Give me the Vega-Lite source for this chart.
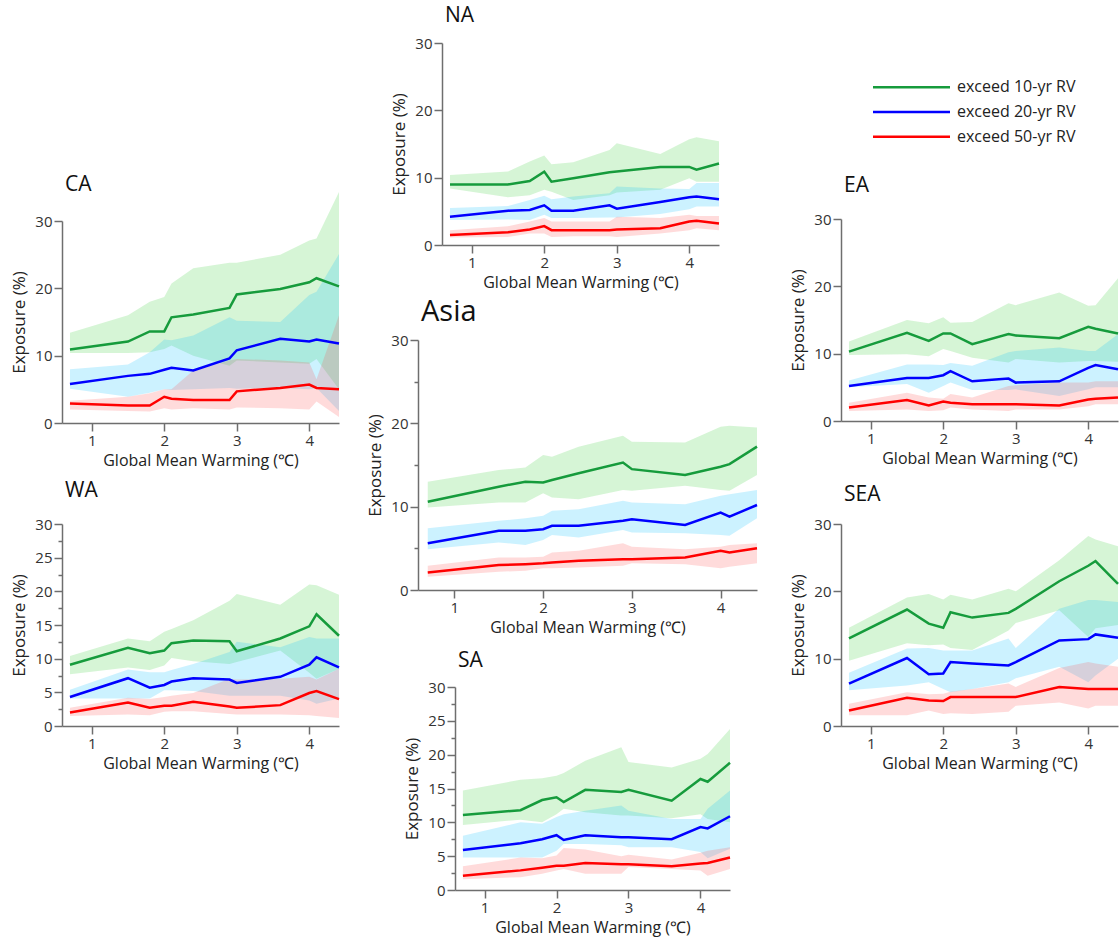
{
"$schema": "https://vega.github.io/schema/vega-lite/v6.json",
"padding": {"left": 10, "top": 5, "right": 0, "bottom": 6},
"background": "white",
"config": {
 "font": "Open Sans",
 "view": {"stroke": null},
 "axis": {"grid": false, "domainColor": "#6e6e6e", "domainWidth": 1.5, "tickColor": "#6e6e6e", "tickWidth": 1.5, "labelColor": "#333333", "labelFontSize": 15, "titleFontSize": 16, "titleFontWeight": "normal", "titleColor": "#222222", "labelFont": "Open Sans", "titleFont": "Open Sans", "labelOverlap": false},
 "axisY": {"titleFontSize": 17, "titlePadding": 6},
 "title": {"anchor": "start", "frame": "group", "fontSize": 21, "fontWeight": "normal", "color": "#111111", "font": "Open Sans", "baseline": "alphabetic", "dx": 3}
},
"resolve": {"scale": {"x": "independent", "y": "independent"}, "axis": {"x": "independent", "y": "independent"}},
"datasets": {
 "leg": [{"s":"10","t":"exceed 10-yr RV"},{"s":"20","t":"exceed 20-yr RV"},{"s":"50","t":"exceed 50-yr RV"}],
 "d": [
{"r":"CA","s":"10","x":0.7,"m":10.9,"lo":10.4,"hi":13.4},
{"r":"CA","s":"10","x":1.5,"m":12.1,"lo":10.4,"hi":16.0},
{"r":"CA","s":"10","x":1.8,"m":13.6,"lo":10.5,"hi":18.0},
{"r":"CA","s":"10","x":2.0,"m":13.6,"lo":11.0,"hi":18.7},
{"r":"CA","s":"10","x":2.1,"m":15.7,"lo":11.5,"hi":20.7},
{"r":"CA","s":"10","x":2.4,"m":16.1,"lo":10.0,"hi":23.0},
{"r":"CA","s":"10","x":2.9,"m":17.1,"lo":8.5,"hi":23.8},
{"r":"CA","s":"10","x":3.0,"m":19.1,"lo":9.3,"hi":23.8},
{"r":"CA","s":"10","x":3.6,"m":19.9,"lo":9.0,"hi":25.0},
{"r":"CA","s":"10","x":4.0,"m":20.9,"lo":8.8,"hi":27.1},
{"r":"CA","s":"10","x":4.1,"m":21.5,"lo":9.5,"hi":27.4},
{"r":"CA","s":"10","x":4.41,"m":20.3,"lo":5.0,"hi":34.3},
{"r":"CA","s":"20","x":0.7,"m":5.8,"lo":5.1,"hi":8.0},
{"r":"CA","s":"20","x":1.5,"m":7.0,"lo":3.9,"hi":8.7},
{"r":"CA","s":"20","x":1.8,"m":7.3,"lo":4.5,"hi":10.5},
{"r":"CA","s":"20","x":2.0,"m":7.9,"lo":5.0,"hi":12.4},
{"r":"CA","s":"20","x":2.1,"m":8.2,"lo":4.9,"hi":12.3},
{"r":"CA","s":"20","x":2.4,"m":7.8,"lo":5.0,"hi":13.0},
{"r":"CA","s":"20","x":2.9,"m":9.6,"lo":5.2,"hi":15.7},
{"r":"CA","s":"20","x":3.0,"m":10.8,"lo":5.1,"hi":15.2},
{"r":"CA","s":"20","x":3.6,"m":12.5,"lo":5.2,"hi":15.0},
{"r":"CA","s":"20","x":4.0,"m":12.1,"lo":5.0,"hi":19.0},
{"r":"CA","s":"20","x":4.1,"m":12.4,"lo":5.2,"hi":19.5},
{"r":"CA","s":"20","x":4.41,"m":11.8,"lo":1.8,"hi":25.1},
{"r":"CA","s":"50","x":0.7,"m":2.9,"lo":2.0,"hi":3.3},
{"r":"CA","s":"50","x":1.5,"m":2.6,"lo":1.8,"hi":3.9},
{"r":"CA","s":"50","x":1.8,"m":2.6,"lo":1.7,"hi":4.4},
{"r":"CA","s":"50","x":2.0,"m":3.9,"lo":2.2,"hi":5.0},
{"r":"CA","s":"50","x":2.1,"m":3.6,"lo":2.0,"hi":5.0},
{"r":"CA","s":"50","x":2.4,"m":3.4,"lo":2.2,"hi":7.8},
{"r":"CA","s":"50","x":2.9,"m":3.4,"lo":2.0,"hi":9.3},
{"r":"CA","s":"50","x":3.0,"m":4.7,"lo":2.3,"hi":9.5},
{"r":"CA","s":"50","x":3.6,"m":5.2,"lo":2.2,"hi":9.3},
{"r":"CA","s":"50","x":4.0,"m":5.7,"lo":2.0,"hi":9.0},
{"r":"CA","s":"50","x":4.1,"m":5.2,"lo":3.2,"hi":6.5},
{"r":"CA","s":"50","x":4.41,"m":5.0,"lo":0.9,"hi":16.0},
{"r":"NA","s":"10","x":0.7,"m":9.0,"lo":8.4,"hi":10.4},
{"r":"NA","s":"10","x":1.5,"m":9.0,"lo":7.1,"hi":10.9},
{"r":"NA","s":"10","x":1.8,"m":9.5,"lo":7.4,"hi":12.4},
{"r":"NA","s":"10","x":2.0,"m":10.9,"lo":8.2,"hi":13.3},
{"r":"NA","s":"10","x":2.1,"m":9.4,"lo":7.9,"hi":12.0},
{"r":"NA","s":"10","x":2.4,"m":9.9,"lo":6.7,"hi":12.3},
{"r":"NA","s":"10","x":2.9,"m":10.8,"lo":7.4,"hi":14.1},
{"r":"NA","s":"10","x":3.0,"m":10.9,"lo":7.8,"hi":15.1},
{"r":"NA","s":"10","x":3.6,"m":11.6,"lo":8.2,"hi":13.5},
{"r":"NA","s":"10","x":4.0,"m":11.6,"lo":9.9,"hi":15.7},
{"r":"NA","s":"10","x":4.1,"m":11.2,"lo":9.4,"hi":16.0},
{"r":"NA","s":"10","x":4.41,"m":12.1,"lo":9.4,"hi":15.4},
{"r":"NA","s":"20","x":0.7,"m":4.2,"lo":3.7,"hi":5.5},
{"r":"NA","s":"20","x":1.5,"m":5.1,"lo":3.8,"hi":5.8},
{"r":"NA","s":"20","x":1.8,"m":5.2,"lo":3.7,"hi":6.7},
{"r":"NA","s":"20","x":2.0,"m":5.9,"lo":4.5,"hi":7.3},
{"r":"NA","s":"20","x":2.1,"m":5.1,"lo":4.0,"hi":6.8},
{"r":"NA","s":"20","x":2.4,"m":5.1,"lo":4.0,"hi":7.2},
{"r":"NA","s":"20","x":2.9,"m":5.9,"lo":4.1,"hi":7.7},
{"r":"NA","s":"20","x":3.0,"m":5.4,"lo":4.1,"hi":8.7},
{"r":"NA","s":"20","x":3.6,"m":6.4,"lo":4.6,"hi":8.4},
{"r":"NA","s":"20","x":4.0,"m":7.1,"lo":5.3,"hi":8.3},
{"r":"NA","s":"20","x":4.1,"m":7.2,"lo":5.7,"hi":9.2},
{"r":"NA","s":"20","x":4.41,"m":6.8,"lo":5.7,"hi":9.2},
{"r":"NA","s":"50","x":0.7,"m":1.5,"lo":1.1,"hi":2.2},
{"r":"NA","s":"50","x":1.5,"m":1.9,"lo":1.2,"hi":2.8},
{"r":"NA","s":"50","x":1.8,"m":2.3,"lo":1.7,"hi":3.5},
{"r":"NA","s":"50","x":2.0,"m":2.8,"lo":1.7,"hi":4.0},
{"r":"NA","s":"50","x":2.1,"m":2.2,"lo":1.2,"hi":3.5},
{"r":"NA","s":"50","x":2.4,"m":2.2,"lo":1.3,"hi":3.5},
{"r":"NA","s":"50","x":2.9,"m":2.2,"lo":1.3,"hi":3.5},
{"r":"NA","s":"50","x":3.0,"m":2.3,"lo":1.2,"hi":4.2},
{"r":"NA","s":"50","x":3.6,"m":2.5,"lo":1.7,"hi":4.0},
{"r":"NA","s":"50","x":4.0,"m":3.5,"lo":2.2,"hi":4.5},
{"r":"NA","s":"50","x":4.1,"m":3.6,"lo":2.5,"hi":4.3},
{"r":"NA","s":"50","x":4.41,"m":3.2,"lo":2.2,"hi":4.3},
{"r":"EA","s":"10","x":0.7,"m":10.3,"lo":9.8,"hi":11.8},
{"r":"EA","s":"10","x":1.5,"m":13.1,"lo":9.9,"hi":15.0},
{"r":"EA","s":"10","x":1.8,"m":11.9,"lo":9.6,"hi":14.5},
{"r":"EA","s":"10","x":2.0,"m":13.0,"lo":10.7,"hi":15.4},
{"r":"EA","s":"10","x":2.1,"m":13.0,"lo":10.4,"hi":14.6},
{"r":"EA","s":"10","x":2.4,"m":11.4,"lo":9.4,"hi":14.7},
{"r":"EA","s":"10","x":2.9,"m":12.9,"lo":8.7,"hi":17.5},
{"r":"EA","s":"10","x":3.0,"m":12.7,"lo":9.2,"hi":17.2},
{"r":"EA","s":"10","x":3.6,"m":12.3,"lo":8.7,"hi":19.1},
{"r":"EA","s":"10","x":4.0,"m":14.0,"lo":8.9,"hi":17.1},
{"r":"EA","s":"10","x":4.1,"m":13.7,"lo":8.9,"hi":17.2},
{"r":"EA","s":"10","x":4.41,"m":13.0,"lo":8.8,"hi":21.2},
{"r":"EA","s":"20","x":0.7,"m":5.2,"lo":5.0,"hi":6.0},
{"r":"EA","s":"20","x":1.5,"m":6.4,"lo":5.5,"hi":8.4},
{"r":"EA","s":"20","x":1.8,"m":6.4,"lo":4.2,"hi":8.4},
{"r":"EA","s":"20","x":2.0,"m":6.8,"lo":5.2,"hi":8.3},
{"r":"EA","s":"20","x":2.1,"m":7.4,"lo":5.7,"hi":8.6},
{"r":"EA","s":"20","x":2.4,"m":5.9,"lo":4.6,"hi":8.2},
{"r":"EA","s":"20","x":2.9,"m":6.3,"lo":4.6,"hi":10.2},
{"r":"EA","s":"20","x":3.0,"m":5.7,"lo":4.7,"hi":10.4},
{"r":"EA","s":"20","x":3.6,"m":5.9,"lo":3.7,"hi":10.9},
{"r":"EA","s":"20","x":4.0,"m":7.9,"lo":4.7,"hi":10.4},
{"r":"EA","s":"20","x":4.1,"m":8.3,"lo":5.0,"hi":10.4},
{"r":"EA","s":"20","x":4.41,"m":7.7,"lo":5.0,"hi":12.9},
{"r":"EA","s":"50","x":0.7,"m":2.0,"lo":1.5,"hi":2.7},
{"r":"EA","s":"50","x":1.5,"m":3.1,"lo":1.7,"hi":4.2},
{"r":"EA","s":"50","x":1.8,"m":2.3,"lo":1.5,"hi":3.5},
{"r":"EA","s":"50","x":2.0,"m":2.9,"lo":1.6,"hi":3.3},
{"r":"EA","s":"50","x":2.1,"m":2.7,"lo":2.0,"hi":4.0},
{"r":"EA","s":"50","x":2.4,"m":2.5,"lo":1.7,"hi":3.5},
{"r":"EA","s":"50","x":2.9,"m":2.5,"lo":1.5,"hi":5.2},
{"r":"EA","s":"50","x":3.0,"m":2.5,"lo":1.7,"hi":5.3},
{"r":"EA","s":"50","x":3.6,"m":2.3,"lo":1.7,"hi":5.7},
{"r":"EA","s":"50","x":4.0,"m":3.2,"lo":2.2,"hi":5.7},
{"r":"EA","s":"50","x":4.1,"m":3.3,"lo":2.5,"hi":5.9},
{"r":"EA","s":"50","x":4.41,"m":3.5,"lo":2.5,"hi":5.9},
{"r":"Asia","s":"10","x":0.7,"m":10.6,"lo":9.9,"hi":13.0},
{"r":"Asia","s":"10","x":1.5,"m":12.4,"lo":10.5,"hi":14.4},
{"r":"Asia","s":"10","x":1.8,"m":13.0,"lo":10.5,"hi":14.7},
{"r":"Asia","s":"10","x":2.0,"m":12.9,"lo":11.6,"hi":16.2},
{"r":"Asia","s":"10","x":2.1,"m":13.2,"lo":11.1,"hi":16.0},
{"r":"Asia","s":"10","x":2.4,"m":14.0,"lo":10.9,"hi":17.2},
{"r":"Asia","s":"10","x":2.9,"m":15.3,"lo":12.0,"hi":18.5},
{"r":"Asia","s":"10","x":3.0,"m":14.5,"lo":11.9,"hi":17.8},
{"r":"Asia","s":"10","x":3.6,"m":13.8,"lo":12.5,"hi":17.7},
{"r":"Asia","s":"10","x":4.0,"m":14.8,"lo":12.0,"hi":19.6},
{"r":"Asia","s":"10","x":4.1,"m":15.1,"lo":11.9,"hi":19.7},
{"r":"Asia","s":"10","x":4.41,"m":17.2,"lo":13.8,"hi":19.5},
{"r":"Asia","s":"20","x":0.7,"m":5.6,"lo":4.9,"hi":7.4},
{"r":"Asia","s":"20","x":1.5,"m":7.1,"lo":5.7,"hi":8.3},
{"r":"Asia","s":"20","x":1.8,"m":7.1,"lo":5.4,"hi":8.6},
{"r":"Asia","s":"20","x":2.0,"m":7.3,"lo":6.0,"hi":8.9},
{"r":"Asia","s":"20","x":2.1,"m":7.7,"lo":6.6,"hi":9.5},
{"r":"Asia","s":"20","x":2.4,"m":7.7,"lo":6.3,"hi":9.7},
{"r":"Asia","s":"20","x":2.9,"m":8.3,"lo":7.2,"hi":10.7},
{"r":"Asia","s":"20","x":3.0,"m":8.5,"lo":6.9,"hi":10.5},
{"r":"Asia","s":"20","x":3.6,"m":7.8,"lo":6.8,"hi":10.3},
{"r":"Asia","s":"20","x":4.0,"m":9.3,"lo":6.6,"hi":11.3},
{"r":"Asia","s":"20","x":4.1,"m":8.8,"lo":6.5,"hi":11.5},
{"r":"Asia","s":"20","x":4.41,"m":10.2,"lo":8.6,"hi":12.0},
{"r":"Asia","s":"50","x":0.7,"m":2.1,"lo":1.6,"hi":2.9},
{"r":"Asia","s":"50","x":1.5,"m":3.0,"lo":2.2,"hi":3.9},
{"r":"Asia","s":"50","x":1.8,"m":3.1,"lo":2.3,"hi":3.9},
{"r":"Asia","s":"50","x":2.0,"m":3.2,"lo":2.6,"hi":4.0},
{"r":"Asia","s":"50","x":2.1,"m":3.3,"lo":2.6,"hi":4.5},
{"r":"Asia","s":"50","x":2.4,"m":3.5,"lo":2.7,"hi":4.7},
{"r":"Asia","s":"50","x":2.9,"m":3.7,"lo":2.9,"hi":5.6},
{"r":"Asia","s":"50","x":3.0,"m":3.7,"lo":3.2,"hi":5.2},
{"r":"Asia","s":"50","x":3.6,"m":3.9,"lo":3.1,"hi":4.9},
{"r":"Asia","s":"50","x":4.0,"m":4.7,"lo":2.6,"hi":5.2},
{"r":"Asia","s":"50","x":4.1,"m":4.5,"lo":2.8,"hi":5.4},
{"r":"Asia","s":"50","x":4.41,"m":5.0,"lo":3.2,"hi":5.6},
{"r":"WA","s":"10","x":0.7,"m":9.1,"lo":7.7,"hi":10.4},
{"r":"WA","s":"10","x":1.5,"m":11.6,"lo":8.7,"hi":13.0},
{"r":"WA","s":"10","x":1.8,"m":10.8,"lo":8.3,"hi":12.6},
{"r":"WA","s":"10","x":2.0,"m":11.2,"lo":9.0,"hi":14.0},
{"r":"WA","s":"10","x":2.1,"m":12.3,"lo":10.1,"hi":14.4},
{"r":"WA","s":"10","x":2.4,"m":12.7,"lo":9.6,"hi":15.7},
{"r":"WA","s":"10","x":2.9,"m":12.6,"lo":9.2,"hi":18.6},
{"r":"WA","s":"10","x":3.0,"m":11.1,"lo":9.5,"hi":19.6},
{"r":"WA","s":"10","x":3.6,"m":13.0,"lo":11.2,"hi":18.0},
{"r":"WA","s":"10","x":4.0,"m":14.8,"lo":7.9,"hi":21.0},
{"r":"WA","s":"10","x":4.1,"m":16.6,"lo":7.0,"hi":20.9},
{"r":"WA","s":"10","x":4.41,"m":13.4,"lo":8.5,"hi":19.5},
{"r":"WA","s":"20","x":0.7,"m":4.3,"lo":4.1,"hi":5.4},
{"r":"WA","s":"20","x":1.5,"m":7.1,"lo":4.1,"hi":8.4},
{"r":"WA","s":"20","x":1.8,"m":5.7,"lo":4.1,"hi":8.0},
{"r":"WA","s":"20","x":2.0,"m":6.1,"lo":5.3,"hi":8.0},
{"r":"WA","s":"20","x":2.1,"m":6.6,"lo":5.3,"hi":8.3},
{"r":"WA","s":"20","x":2.4,"m":7.1,"lo":5.2,"hi":9.2},
{"r":"WA","s":"20","x":2.9,"m":6.9,"lo":4.5,"hi":11.0},
{"r":"WA","s":"20","x":3.0,"m":6.4,"lo":4.5,"hi":12.5},
{"r":"WA","s":"20","x":3.6,"m":7.3,"lo":4.5,"hi":11.7},
{"r":"WA","s":"20","x":4.0,"m":9.1,"lo":3.8,"hi":13.2},
{"r":"WA","s":"20","x":4.1,"m":10.2,"lo":3.3,"hi":13.0},
{"r":"WA","s":"20","x":4.41,"m":8.7,"lo":4.1,"hi":13.0},
{"r":"WA","s":"50","x":0.7,"m":2.0,"lo":1.5,"hi":2.7},
{"r":"WA","s":"50","x":1.5,"m":3.5,"lo":1.7,"hi":4.2},
{"r":"WA","s":"50","x":1.8,"m":2.7,"lo":1.6,"hi":4.0},
{"r":"WA","s":"50","x":2.0,"m":3.0,"lo":2.1,"hi":4.3},
{"r":"WA","s":"50","x":2.1,"m":3.0,"lo":2.2,"hi":4.5},
{"r":"WA","s":"50","x":2.4,"m":3.6,"lo":2.2,"hi":4.9},
{"r":"WA","s":"50","x":2.9,"m":2.9,"lo":1.8,"hi":7.0},
{"r":"WA","s":"50","x":3.0,"m":2.7,"lo":1.7,"hi":6.9},
{"r":"WA","s":"50","x":3.6,"m":3.1,"lo":1.7,"hi":7.0},
{"r":"WA","s":"50","x":4.0,"m":4.9,"lo":1.6,"hi":7.3},
{"r":"WA","s":"50","x":4.1,"m":5.2,"lo":1.5,"hi":6.9},
{"r":"WA","s":"50","x":4.41,"m":4.0,"lo":1.2,"hi":8.5},
{"r":"SEA","s":"10","x":0.7,"m":13.0,"lo":9.7,"hi":14.6},
{"r":"SEA","s":"10","x":1.5,"m":17.3,"lo":12.3,"hi":19.1},
{"r":"SEA","s":"10","x":1.8,"m":15.2,"lo":12.0,"hi":19.6},
{"r":"SEA","s":"10","x":2.0,"m":14.6,"lo":12.1,"hi":18.8},
{"r":"SEA","s":"10","x":2.1,"m":16.9,"lo":11.6,"hi":19.5},
{"r":"SEA","s":"10","x":2.4,"m":16.1,"lo":11.3,"hi":18.8},
{"r":"SEA","s":"10","x":2.9,"m":16.8,"lo":14.2,"hi":20.4},
{"r":"SEA","s":"10","x":3.0,"m":17.4,"lo":15.3,"hi":20.0},
{"r":"SEA","s":"10","x":3.6,"m":21.5,"lo":17.2,"hi":24.6},
{"r":"SEA","s":"10","x":4.0,"m":23.8,"lo":13.2,"hi":28.2},
{"r":"SEA","s":"10","x":4.1,"m":24.5,"lo":14.5,"hi":27.7},
{"r":"SEA","s":"10","x":4.41,"m":21.1,"lo":15.0,"hi":26.7},
{"r":"SEA","s":"20","x":0.7,"m":6.3,"lo":5.3,"hi":7.9},
{"r":"SEA","s":"20","x":1.5,"m":10.1,"lo":6.0,"hi":11.5},
{"r":"SEA","s":"20","x":1.8,"m":7.7,"lo":6.5,"hi":11.6},
{"r":"SEA","s":"20","x":2.0,"m":7.8,"lo":5.5,"hi":11.2},
{"r":"SEA","s":"20","x":2.1,"m":9.5,"lo":5.0,"hi":11.2},
{"r":"SEA","s":"20","x":2.4,"m":9.3,"lo":5.5,"hi":11.2},
{"r":"SEA","s":"20","x":2.9,"m":9.0,"lo":6.5,"hi":13.0},
{"r":"SEA","s":"20","x":3.0,"m":9.5,"lo":7.1,"hi":11.6},
{"r":"SEA","s":"20","x":3.6,"m":12.7,"lo":8.8,"hi":17.4},
{"r":"SEA","s":"20","x":4.0,"m":12.9,"lo":6.5,"hi":18.7},
{"r":"SEA","s":"20","x":4.1,"m":13.6,"lo":7.5,"hi":18.7},
{"r":"SEA","s":"20","x":4.41,"m":13.1,"lo":10.0,"hi":18.4},
{"r":"SEA","s":"50","x":0.7,"m":2.3,"lo":1.6,"hi":3.3},
{"r":"SEA","s":"50","x":1.5,"m":4.2,"lo":1.6,"hi":5.0},
{"r":"SEA","s":"50","x":1.8,"m":3.8,"lo":2.3,"hi":4.7},
{"r":"SEA","s":"50","x":2.0,"m":3.7,"lo":1.8,"hi":4.8},
{"r":"SEA","s":"50","x":2.1,"m":4.3,"lo":1.9,"hi":5.1},
{"r":"SEA","s":"50","x":2.4,"m":4.3,"lo":1.8,"hi":5.5},
{"r":"SEA","s":"50","x":2.9,"m":4.3,"lo":2.1,"hi":6.3},
{"r":"SEA","s":"50","x":3.0,"m":4.3,"lo":3.0,"hi":5.8},
{"r":"SEA","s":"50","x":3.6,"m":5.8,"lo":3.5,"hi":8.6},
{"r":"SEA","s":"50","x":4.0,"m":5.5,"lo":2.6,"hi":9.5},
{"r":"SEA","s":"50","x":4.1,"m":5.5,"lo":3.0,"hi":9.3},
{"r":"SEA","s":"50","x":4.41,"m":5.5,"lo":3.0,"hi":8.8},
{"r":"SA","s":"10","x":0.7,"m":11.1,"lo":9.6,"hi":14.7},
{"r":"SA","s":"10","x":1.5,"m":11.8,"lo":10.4,"hi":16.3},
{"r":"SA","s":"10","x":1.8,"m":13.3,"lo":10.0,"hi":16.5},
{"r":"SA","s":"10","x":2.0,"m":13.7,"lo":11.2,"hi":16.9},
{"r":"SA","s":"10","x":2.1,"m":13.0,"lo":12.0,"hi":17.3},
{"r":"SA","s":"10","x":2.4,"m":14.8,"lo":11.5,"hi":19.1},
{"r":"SA","s":"10","x":2.9,"m":14.5,"lo":11.0,"hi":21.1},
{"r":"SA","s":"10","x":3.0,"m":14.8,"lo":11.0,"hi":18.9},
{"r":"SA","s":"10","x":3.6,"m":13.2,"lo":10.6,"hi":18.1},
{"r":"SA","s":"10","x":4.0,"m":16.4,"lo":11.2,"hi":19.4},
{"r":"SA","s":"10","x":4.1,"m":16.0,"lo":10.5,"hi":20.1},
{"r":"SA","s":"10","x":4.41,"m":18.8,"lo":10.0,"hi":23.8},
{"r":"SA","s":"20","x":0.7,"m":5.9,"lo":4.8,"hi":8.0},
{"r":"SA","s":"20","x":1.5,"m":6.9,"lo":4.8,"hi":10.0},
{"r":"SA","s":"20","x":1.8,"m":7.5,"lo":4.8,"hi":9.8},
{"r":"SA","s":"20","x":2.0,"m":8.1,"lo":5.8,"hi":10.8},
{"r":"SA","s":"20","x":2.1,"m":7.4,"lo":6.8,"hi":11.2},
{"r":"SA","s":"20","x":2.4,"m":8.1,"lo":6.8,"hi":11.7},
{"r":"SA","s":"20","x":2.9,"m":7.8,"lo":6.6,"hi":12.5},
{"r":"SA","s":"20","x":3.0,"m":7.8,"lo":6.3,"hi":11.7},
{"r":"SA","s":"20","x":3.6,"m":7.5,"lo":6.3,"hi":10.5},
{"r":"SA","s":"20","x":4.0,"m":9.3,"lo":5.6,"hi":10.5},
{"r":"SA","s":"20","x":4.1,"m":9.1,"lo":4.7,"hi":12.0},
{"r":"SA","s":"20","x":4.41,"m":10.9,"lo":6.1,"hi":14.7},
{"r":"SA","s":"50","x":0.7,"m":2.1,"lo":1.6,"hi":3.5},
{"r":"SA","s":"50","x":1.5,"m":2.9,"lo":1.9,"hi":4.8},
{"r":"SA","s":"50","x":1.8,"m":3.3,"lo":2.4,"hi":4.7},
{"r":"SA","s":"50","x":2.0,"m":3.6,"lo":2.9,"hi":5.1},
{"r":"SA","s":"50","x":2.1,"m":3.6,"lo":3.1,"hi":6.2},
{"r":"SA","s":"50","x":2.4,"m":4.0,"lo":2.4,"hi":6.0},
{"r":"SA","s":"50","x":2.9,"m":3.8,"lo":2.4,"hi":5.0},
{"r":"SA","s":"50","x":3.0,"m":3.8,"lo":3.4,"hi":5.2},
{"r":"SA","s":"50","x":3.6,"m":3.5,"lo":3.1,"hi":4.5},
{"r":"SA","s":"50","x":4.0,"m":3.9,"lo":2.9,"hi":5.5},
{"r":"SA","s":"50","x":4.1,"m":4.0,"lo":2.1,"hi":5.8},
{"r":"SA","s":"50","x":4.41,"m":4.8,"lo":3.1,"hi":6.3}
 ]
},
"hconcat": [
 {"vconcat": [
   {"width": 1, "height": 131, "data": {"values": [{}]}, "mark": {"type": "point", "opacity": 0, "size": 0}},
   {"data": {"name": "d"}, "transform": [{"filter": "datum.r === 'CA'"}], "width": 277, "height": 202,
    "title": {"text": "CA", "offset": -3, "fontSize": 21},
    "layer": [
     {"mark": {"type": "area", "fillOpacity": 0.2}, "encoding": {
       "x": {"field": "x", "type": "quantitative", "scale": {"domain": [0.59, 4.41], "nice": false, "zero": false}, "axis": {"title": "Global Mean Warming (℃)", "values": [1,1.5,2,2.5,3,3.5,4], "format": "d", "labelExpr": "datum.value % 1 === 0 ? datum.label : ''", "tickSize": {"condition": {"test": "datum.value % 1 === 0", "value": 8}, "value": 4}, "labelPadding": 2, "titlePadding": 4, "titleFontSize": 16, "labelFontSize": 15, "labelOverlap": false}},
       "y": {"field": "hi", "type": "quantitative", "scale": {"domain": [0, 30], "nice": false}, "axis": {"title": "Exposure (%)", "values": [0,5,10,15,20,25,30], "labelExpr": "datum.value % 10 === 0 ? datum.label : ''", "tickSize": {"condition": {"test": "datum.value % 10 === 0", "value": 8}, "value": 4}, "labelPadding": 2, "titlePadding": 6, "titleFontSize": 17, "labelFontSize": 15, "labelOverlap": false}},
       "y2": {"field": "lo"},
       "fill": {"field": "s", "type": "nominal", "scale": {"domain": ["10","20","50"], "range": ["#33cc33","#00bfff","#ff4d4d"]}, "legend": null}}},
     {"mark": {"type": "line", "strokeWidth": 2.5}, "encoding": {
       "x": {"field": "x", "type": "quantitative"},
       "y": {"field": "m", "type": "quantitative"},
       "color": {"field": "s", "type": "nominal", "scale": {"domain": ["10","20","50"], "range": ["#169b3c","#0000ff","#ff0000"]}, "legend": null}}}
    ]},
   {"width": 1, "height": 12, "data": {"values": [{}]}, "mark": {"type": "point", "opacity": 0, "size": 0}},
   {"data": {"name": "d"}, "transform": [{"filter": "datum.r === 'WA'"}], "width": 277, "height": 202,
    "title": {"text": "WA", "offset": 16, "fontSize": 21},
    "layer": [
     {"mark": {"type": "area", "fillOpacity": 0.2}, "encoding": {
       "x": {"field": "x", "type": "quantitative", "scale": {"domain": [0.59, 4.41], "nice": false, "zero": false}, "axis": {"title": "Global Mean Warming (℃)", "values": [1,1.5,2,2.5,3,3.5,4], "format": "d", "labelExpr": "datum.value % 1 === 0 ? datum.label : ''", "tickSize": {"condition": {"test": "datum.value % 1 === 0", "value": 8}, "value": 4}, "labelPadding": 2, "titlePadding": 4, "titleFontSize": 16, "labelFontSize": 15, "labelOverlap": false}},
       "y": {"field": "hi", "type": "quantitative", "scale": {"domain": [0, 30], "nice": false}, "axis": {"title": "Exposure (%)", "values": [0,2.5,5,7.5,10,12.5,15,17.5,20,22.5,25,27.5,30], "format": "d", "labelExpr": "datum.value % 5 === 0 ? datum.label : ''", "tickSize": {"condition": {"test": "datum.value % 5 === 0", "value": 8}, "value": 4}, "labelPadding": 2, "titlePadding": 6, "titleFontSize": 17, "labelFontSize": 15, "labelOverlap": false}},
       "y2": {"field": "lo"},
       "fill": {"field": "s", "type": "nominal", "scale": {"domain": ["10","20","50"], "range": ["#33cc33","#00bfff","#ff4d4d"]}, "legend": null}}},
     {"mark": {"type": "line", "strokeWidth": 2.5}, "encoding": {
       "x": {"field": "x", "type": "quantitative"},
       "y": {"field": "m", "type": "quantitative", "axis": {"title": "Exposure (%)", "values": [0,2.5,5,7.5,10,12.5,15,17.5,20,22.5,25,27.5,30], "format": "d", "labelExpr": "datum.value % 5 === 0 ? datum.label : ''", "tickSize": {"condition": {"test": "datum.value % 5 === 0", "value": 8}, "value": 4}, "labelPadding": 2, "titlePadding": 6, "titleFontSize": 17, "labelFontSize": 15, "labelOverlap": false}},
       "color": {"field": "s", "type": "nominal", "scale": {"domain": ["10","20","50"], "range": ["#169b3c","#0000ff","#ff0000"]}, "legend": null}}}
    ]}
  ], "spacing": 0, "resolve": {"scale": {"x": "independent", "y": "independent"}, "axis": {"x": "independent", "y": "independent"}}},
 {"width": 20, "height": 1, "data": {"values": [{}]}, "mark": {"type": "point", "opacity": 0, "size": 0}},
 {"vconcat": [
   {"hconcat": [
     {"width": 26, "height": 1, "data": {"values": [{}]}, "mark": {"type": "point", "opacity": 0, "size": 0}},
     {"data": {"name": "d"}, "transform": [{"filter": "datum.r === 'NA'"}], "width": 277, "height": 202,
      "title": {"text": "NA", "offset": 10, "fontSize": 21},
      "layer": [
       {"mark": {"type": "area", "fillOpacity": 0.2}, "encoding": {
         "x": {"field": "x", "type": "quantitative", "scale": {"domain": [0.59, 4.41], "nice": false, "zero": false}, "axis": {"title": "Global Mean Warming (℃)", "values": [1,1.5,2,2.5,3,3.5,4], "format": "d", "labelExpr": "datum.value % 1 === 0 ? datum.label : ''", "tickSize": {"condition": {"test": "datum.value % 1 === 0", "value": 8}, "value": 4}, "labelPadding": 2, "titlePadding": 4, "titleFontSize": 16, "labelFontSize": 15, "labelOverlap": false}},
         "y": {"field": "hi", "type": "quantitative", "scale": {"domain": [0, 30], "nice": false}, "axis": {"title": "Exposure (%)", "values": [0,5,10,15,20,25,30], "labelExpr": "datum.value % 10 === 0 ? datum.label : ''", "tickSize": {"condition": {"test": "datum.value % 10 === 0", "value": 8}, "value": 4}, "labelPadding": 2, "titlePadding": 6, "titleFontSize": 17, "labelFontSize": 15, "labelOverlap": false}},
         "y2": {"field": "lo"},
         "fill": {"field": "s", "type": "nominal", "scale": {"domain": ["10","20","50"], "range": ["#33cc33","#00bfff","#ff4d4d"]}, "legend": null}}},
       {"mark": {"type": "line", "strokeWidth": 2.5}, "encoding": {
         "x": {"field": "x", "type": "quantitative"},
         "y": {"field": "m", "type": "quantitative"},
         "color": {"field": "s", "type": "nominal", "scale": {"domain": ["10","20","50"], "range": ["#169b3c","#0000ff","#ff0000"]}, "legend": null}}}
      ]}
    ], "spacing": 0, "resolve": {"scale": {"x": "independent", "y": "independent"}, "axis": {"x": "independent", "y": "independent"}}},
   {"width": 1, "height": 8, "data": {"values": [{}]}, "mark": {"type": "point", "opacity": 0, "size": 0}},
   {"hconcat": [
     {"width": 2, "height": 1, "data": {"values": [{}]}, "mark": {"type": "point", "opacity": 0, "size": 0}},
     {"data": {"name": "d"}, "transform": [{"filter": "datum.r === 'Asia'"}], "width": 339, "height": 250,
      "title": {"text": "Asia", "offset": 6, "fontSize": 29},
      "layer": [
       {"mark": {"type": "area", "fillOpacity": 0.2}, "encoding": {
         "x": {"field": "x", "type": "quantitative", "scale": {"domain": [0.59, 4.41], "nice": false, "zero": false}, "axis": {"title": "Global Mean Warming (℃)", "values": [1,1.5,2,2.5,3,3.5,4], "format": "d", "labelExpr": "datum.value % 1 === 0 ? datum.label : ''", "tickSize": {"condition": {"test": "datum.value % 1 === 0", "value": 8}, "value": 4}, "labelPadding": 2, "titlePadding": 4, "titleFontSize": 16, "labelFontSize": 15, "labelOverlap": false}},
         "y": {"field": "hi", "type": "quantitative", "scale": {"domain": [0, 30], "nice": false}, "axis": {"title": "Exposure (%)", "values": [0,5,10,15,20,25,30], "labelExpr": "datum.value % 10 === 0 ? datum.label : ''", "tickSize": {"condition": {"test": "datum.value % 10 === 0", "value": 8}, "value": 4}, "labelPadding": 2, "titlePadding": 6, "titleFontSize": 17, "labelFontSize": 15, "labelOverlap": false}},
         "y2": {"field": "lo"},
         "fill": {"field": "s", "type": "nominal", "scale": {"domain": ["10","20","50"], "range": ["#33cc33","#00bfff","#ff4d4d"]}, "legend": null}}},
       {"mark": {"type": "line", "strokeWidth": 2.5}, "encoding": {
         "x": {"field": "x", "type": "quantitative"},
         "y": {"field": "m", "type": "quantitative"},
         "color": {"field": "s", "type": "nominal", "scale": {"domain": ["10","20","50"], "range": ["#169b3c","#0000ff","#ff0000"]}, "legend": null}}}
      ]}
    ], "spacing": 0, "resolve": {"scale": {"x": "independent", "y": "independent"}, "axis": {"x": "independent", "y": "independent"}}},
   {"width": 1, "height": 15, "data": {"values": [{}]}, "mark": {"type": "point", "opacity": 0, "size": 0}},
   {"hconcat": [
     {"width": 39, "height": 1, "data": {"values": [{}]}, "mark": {"type": "point", "opacity": 0, "size": 0}},
     {"data": {"name": "d"}, "transform": [{"filter": "datum.r === 'SA'"}], "width": 275, "height": 203,
      "title": {"text": "SA", "offset": 9, "fontSize": 21},
      "layer": [
       {"mark": {"type": "area", "fillOpacity": 0.2}, "encoding": {
         "x": {"field": "x", "type": "quantitative", "scale": {"domain": [0.59, 4.41], "nice": false, "zero": false}, "axis": {"title": "Global Mean Warming (℃)", "values": [1,1.5,2,2.5,3,3.5,4], "format": "d", "labelExpr": "datum.value % 1 === 0 ? datum.label : ''", "tickSize": {"condition": {"test": "datum.value % 1 === 0", "value": 8}, "value": 4}, "labelPadding": 2, "titlePadding": 4, "titleFontSize": 16, "labelFontSize": 15, "labelOverlap": false}},
         "y": {"field": "hi", "type": "quantitative", "scale": {"domain": [0, 30], "nice": false}, "axis": {"title": "Exposure (%)", "values": [0,2.5,5,7.5,10,12.5,15,17.5,20,22.5,25,27.5,30], "format": "d", "labelExpr": "datum.value % 5 === 0 ? datum.label : ''", "tickSize": {"condition": {"test": "datum.value % 5 === 0", "value": 8}, "value": 4}, "labelPadding": 2, "titlePadding": 6, "titleFontSize": 17, "labelFontSize": 15, "labelOverlap": false}},
         "y2": {"field": "lo"},
         "fill": {"field": "s", "type": "nominal", "scale": {"domain": ["10","20","50"], "range": ["#33cc33","#00bfff","#ff4d4d"]}, "legend": null}}},
       {"mark": {"type": "line", "strokeWidth": 2.5}, "encoding": {
         "x": {"field": "x", "type": "quantitative"},
         "y": {"field": "m", "type": "quantitative", "axis": {"title": "Exposure (%)", "values": [0,2.5,5,7.5,10,12.5,15,17.5,20,22.5,25,27.5,30], "format": "d", "labelExpr": "datum.value % 5 === 0 ? datum.label : ''", "tickSize": {"condition": {"test": "datum.value % 5 === 0", "value": 8}, "value": 4}, "labelPadding": 2, "titlePadding": 6, "titleFontSize": 17, "labelFontSize": 15, "labelOverlap": false}},
         "color": {"field": "s", "type": "nominal", "scale": {"domain": ["10","20","50"], "range": ["#169b3c","#0000ff","#ff0000"]}, "legend": null}}}
      ]}
    ], "spacing": 0, "resolve": {"scale": {"x": "independent", "y": "independent"}, "axis": {"x": "independent", "y": "independent"}}}
  ], "spacing": 0, "resolve": {"scale": {"x": "independent", "y": "independent"}, "axis": {"x": "independent", "y": "independent"}}},
 {"width": 27, "height": 1, "data": {"values": [{}]}, "mark": {"type": "point", "opacity": 0, "size": 0}},
 {"vconcat": [
   {"width": 1, "height": 32, "data": {"values": [{}]}, "mark": {"type": "point", "opacity": 0, "size": 0}},
   {"hconcat": [
     {"width": 30, "height": 1, "data": {"values": [{}]}, "mark": {"type": "point", "opacity": 0, "size": 0}},
     {"data": {"name": "leg"}, "width": 77, "height": 74,
      "layer": [
       {"mark": {"type": "rule", "strokeWidth": 2.5}, "encoding": {
         "x": {"datum": 0, "type": "quantitative", "scale": {"domain": [0, 1], "nice": false}, "axis": null},
         "x2": {"datum": 1},
         "y": {"field": "s", "type": "nominal", "scale": {"type": "point", "padding": 0.5}, "axis": null},
         "color": {"field": "s", "type": "nominal", "scale": {"domain": ["10","20","50"], "range": ["#169b3c","#0000ff","#ff0000"]}, "legend": null}}},
       {"mark": {"type": "text", "align": "left", "baseline": "middle", "dx": 7, "fontSize": 16, "color": "#222222"}, "encoding": {
         "x": {"datum": 1, "type": "quantitative"},
         "y": {"field": "s", "type": "nominal"},
         "text": {"field": "t"}}}
      ]}
    ], "spacing": 0, "resolve": {"scale": {"x": "independent", "y": "independent"}, "axis": {"x": "independent", "y": "independent"}}},
   {"width": 1, "height": 26, "data": {"values": [{}]}, "mark": {"type": "point", "opacity": 0, "size": 0}},
   {"data": {"name": "d"}, "transform": [{"filter": "datum.r === 'EA'"}], "width": 277, "height": 202,
    "title": {"text": "EA", "offset": 16, "fontSize": 21},
    "layer": [
     {"mark": {"type": "area", "fillOpacity": 0.2}, "encoding": {
       "x": {"field": "x", "type": "quantitative", "scale": {"domain": [0.59, 4.41], "nice": false, "zero": false}, "axis": {"title": "Global Mean Warming (℃)", "values": [1,1.5,2,2.5,3,3.5,4], "format": "d", "labelExpr": "datum.value % 1 === 0 ? datum.label : ''", "tickSize": {"condition": {"test": "datum.value % 1 === 0", "value": 8}, "value": 4}, "labelPadding": 2, "titlePadding": 4, "titleFontSize": 16, "labelFontSize": 15, "labelOverlap": false}},
       "y": {"field": "hi", "type": "quantitative", "scale": {"domain": [0, 30], "nice": false}, "axis": {"title": "Exposure (%)", "values": [0,5,10,15,20,25,30], "labelExpr": "datum.value % 10 === 0 ? datum.label : ''", "tickSize": {"condition": {"test": "datum.value % 10 === 0", "value": 8}, "value": 4}, "labelPadding": 2, "titlePadding": 6, "titleFontSize": 17, "labelFontSize": 15, "labelOverlap": false}},
       "y2": {"field": "lo"},
       "fill": {"field": "s", "type": "nominal", "scale": {"domain": ["10","20","50"], "range": ["#33cc33","#00bfff","#ff4d4d"]}, "legend": null}}},
     {"mark": {"type": "line", "strokeWidth": 2.5}, "encoding": {
       "x": {"field": "x", "type": "quantitative"},
       "y": {"field": "m", "type": "quantitative"},
       "color": {"field": "s", "type": "nominal", "scale": {"domain": ["10","20","50"], "range": ["#169b3c","#0000ff","#ff0000"]}, "legend": null}}}
    ]},
   {"width": 1, "height": 18, "data": {"values": [{}]}, "mark": {"type": "point", "opacity": 0, "size": 0}},
   {"data": {"name": "d"}, "transform": [{"filter": "datum.r === 'SEA'"}], "width": 277, "height": 202,
    "title": {"text": "SEA", "offset": 12, "fontSize": 21},
    "layer": [
     {"mark": {"type": "area", "fillOpacity": 0.2}, "encoding": {
       "x": {"field": "x", "type": "quantitative", "scale": {"domain": [0.59, 4.41], "nice": false, "zero": false}, "axis": {"title": "Global Mean Warming (℃)", "values": [1,1.5,2,2.5,3,3.5,4], "format": "d", "labelExpr": "datum.value % 1 === 0 ? datum.label : ''", "tickSize": {"condition": {"test": "datum.value % 1 === 0", "value": 8}, "value": 4}, "labelPadding": 2, "titlePadding": 4, "titleFontSize": 16, "labelFontSize": 15, "labelOverlap": false}},
       "y": {"field": "hi", "type": "quantitative", "scale": {"domain": [0, 30], "nice": false}, "axis": {"title": "Exposure (%)", "values": [0,5,10,15,20,25,30], "labelExpr": "datum.value % 10 === 0 ? datum.label : ''", "tickSize": {"condition": {"test": "datum.value % 10 === 0", "value": 8}, "value": 4}, "labelPadding": 2, "titlePadding": 6, "titleFontSize": 17, "labelFontSize": 15, "labelOverlap": false}},
       "y2": {"field": "lo"},
       "fill": {"field": "s", "type": "nominal", "scale": {"domain": ["10","20","50"], "range": ["#33cc33","#00bfff","#ff4d4d"]}, "legend": null}}},
     {"mark": {"type": "line", "strokeWidth": 2.5}, "encoding": {
       "x": {"field": "x", "type": "quantitative"},
       "y": {"field": "m", "type": "quantitative"},
       "color": {"field": "s", "type": "nominal", "scale": {"domain": ["10","20","50"], "range": ["#169b3c","#0000ff","#ff0000"]}, "legend": null}}}
    ]}
  ], "spacing": 0, "resolve": {"scale": {"x": "independent", "y": "independent"}, "axis": {"x": "independent", "y": "independent"}}}
],
"spacing": 0
}
